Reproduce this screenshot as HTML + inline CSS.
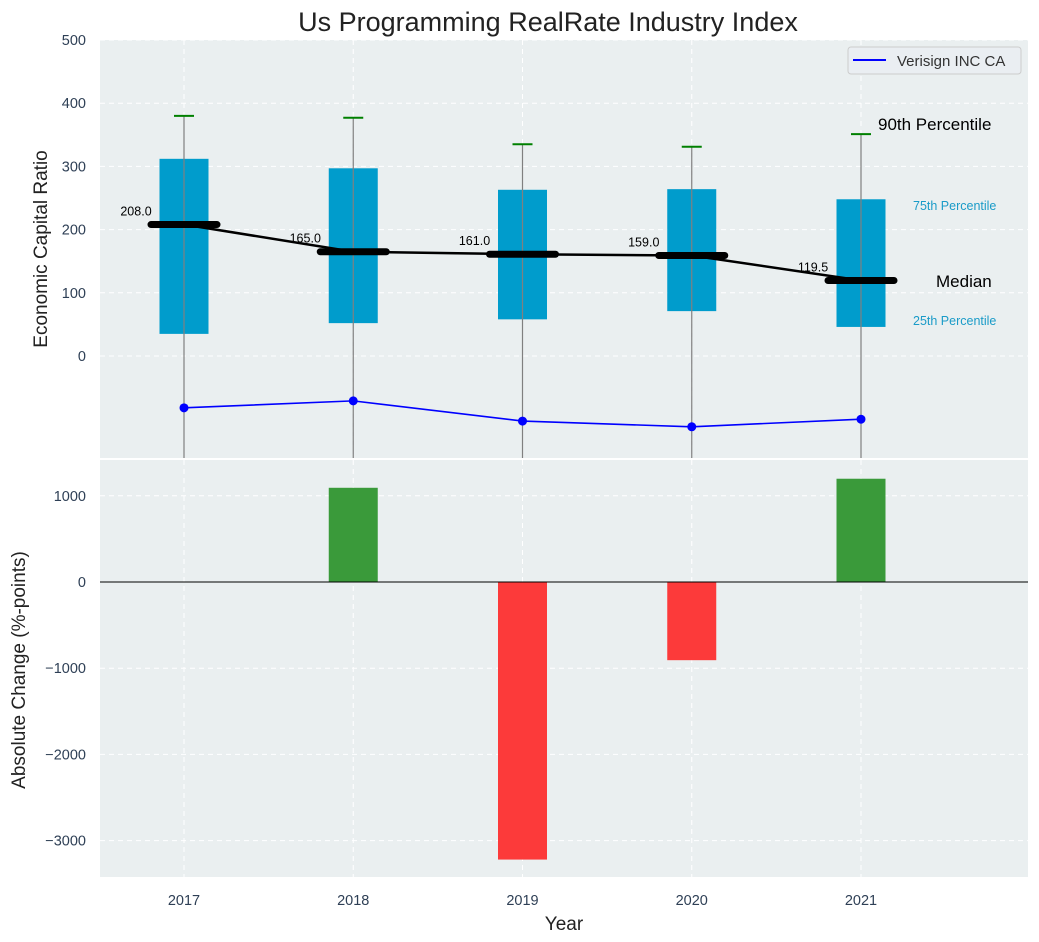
<!DOCTYPE html>
<html><head><meta charset="utf-8">
<style>
body{margin:0;background:#fff;}
svg{display:block;font-family:"Liberation Sans","DejaVu Sans",sans-serif;}
</style></head>
<body>
<svg id="chart" width="1039" height="942">
<text x="548" y="31" font-size="27" text-anchor="middle" fill="#222">Us Programming RealRate Industry Index</text>
<rect x="100" y="40" width="928" height="418" fill="#eaeff0"/>
<rect x="100" y="460" width="928" height="417" fill="#eaeff0"/>
<g id="gtop"></g>
<g id="gbot"></g>
<text x="47" y="249" font-size="19" fill="#222" text-anchor="middle" transform="rotate(-90 47 249)">Economic Capital Ratio</text>
<text x="25" y="670" font-size="19" fill="#222" text-anchor="middle" transform="rotate(-90 25 670)">Absolute Change (%-points)</text>
<text x="564" y="930" font-size="19" fill="#222" text-anchor="middle">Year</text>
<g>
<rect x="848" y="47" width="173" height="27" rx="3" fill="#eaeef2" stroke="#ccc"/>
<line x1="853" y1="60" x2="886" y2="60" stroke="#0000ff" stroke-width="2"/>
<text x="897" y="66" font-size="15" fill="#333">Verisign INC CA</text>
</g>
<text x="878" y="130" font-size="17" fill="#000">90th Percentile</text>
<text x="913" y="210" font-size="12.5" fill="#1a9bc8">75th Percentile</text>
<text x="936" y="287" font-size="17" fill="#000">Median</text>
<text x="913" y="325" font-size="12.5" fill="#1a9bc8">25th Percentile</text>
</svg>
<script>
const years=[2017,2018,2019,2020,2021];
const p90=[380,377,335,331,351];
const q3=[312,297,263,264,248];
const q1=[35,52,58,71,46];
const med=[208,165,161,159,119.5];
const company=[-82,-71,-103,-112,-100];
const change=[0,1093,-3220,-907,1198];
const topTicks=[0,100,200,300,400,500];
const botTicks=[-3000,-2000,-1000,0,1000];
const NS="http://www.w3.org/2000/svg";
const xs=i=>184+i*169.25;
const yT=v=>356-v*0.632;
const yB=v=>582-v*0.0862;
function mk(p,t,a){const e=document.createElementNS(NS,t);for(const k in a)e.setAttribute(k,a[k]);p.appendChild(e);return e;}
const gTop=document.getElementById('gtop'),gBot=document.getElementById('gbot');
topTicks.forEach(v=>{
 const g=mk(gTop,'line',{x1:100,x2:1028,y1:yT(v),y2:yT(v),stroke:'#fff','stroke-dasharray':'5,4','stroke-width':1});
 
 
 const t=mk(gTop,'text',{x:86,y:yT(v)+5,'text-anchor':'end','font-size':14.5,fill:'#2e3f55'});t.textContent=v;
 
 
});
botTicks.forEach(v=>{
 const g=mk(gBot,'line',{x1:100,x2:1028,y1:yB(v),y2:yB(v),stroke:'#fff','stroke-dasharray':'5,4','stroke-width':1});
 
 
 const t=mk(gBot,'text',{x:86,y:yB(v)+5,'text-anchor':'end','font-size':14.5,fill:'#2e3f55'});t.textContent=(v<0?'\u2212'+(-v):v);
 
 
});
years.forEach((y,i)=>{
 [gTop,gBot].forEach((p,k)=>{const g=mk(p,'line',{x1:xs(i),x2:xs(i),y1:k?460:40,y2:k?877:458,stroke:'#fff','stroke-dasharray':'5,4'});
 
 });
 const t=mk(gBot,'text',{x:xs(i),y:905,'text-anchor':'middle','font-size':14.5,fill:'#2e3f55'});t.textContent=y;
 
 
});
years.forEach((y,i)=>{
 const b=mk(gTop,'rect',{x:xs(i)-24.5,y:yT(q3[i]),width:49,height:yT(q1[i])-yT(q3[i]),fill:'#009ccc'});
 
 
 const w=mk(gTop,'line',{x1:xs(i),x2:xs(i),y1:yT(p90[i]),y2:458,stroke:'#808080','stroke-width':1.2});
 
 
 const c=mk(gTop,'line',{x1:xs(i)-10,x2:xs(i)+10,y1:yT(p90[i]),y2:yT(p90[i]),stroke:'#008000','stroke-width':2});
 
 
});
const pts=med.map((v,i)=>xs(i)+','+yT(v)).join(' ');
const ml=mk(gTop,'polyline',{points:pts,fill:'none',stroke:'#000','stroke-width':2.5});


years.forEach((y,i)=>{
 const m=mk(gTop,'line',{x1:xs(i)-33,x2:xs(i)+33,y1:yT(med[i]),y2:yT(med[i]),stroke:'#000','stroke-width':7,'stroke-linecap':'round'});
 
 
 const t=mk(gTop,'text',{x:xs(i)-48,y:yT(med[i])-9,'text-anchor':'middle','font-size':12.5,fill:'#000'});t.textContent=med[i].toFixed(1);
 
 
});
const cl=mk(gTop,'polyline',{points:company.map((v,i)=>xs(i)+','+yT(v)).join(' '),fill:'none',stroke:'#0000ff','stroke-width':1.6});


years.forEach((y,i)=>{
 const d=mk(gTop,'circle',{cx:xs(i),cy:yT(company[i]),r:4.5,fill:'#0000ff'});
 
 
});
years.forEach((y,i)=>{
 const v=change[i];if(!v)return;
 const r=mk(gBot,'rect',{x:xs(i)-24.5,y:Math.min(yB(v),yB(0)),width:49,height:Math.abs(yB(v)-yB(0)),fill:v>0?'#3a9a3a':'#fc3a3a'});
 
 
});
const z=mk(gBot,'line',{x1:100,x2:1028,y1:yB(0),y2:yB(0),stroke:'#000','stroke-width':1});


</script>
</body></html>
